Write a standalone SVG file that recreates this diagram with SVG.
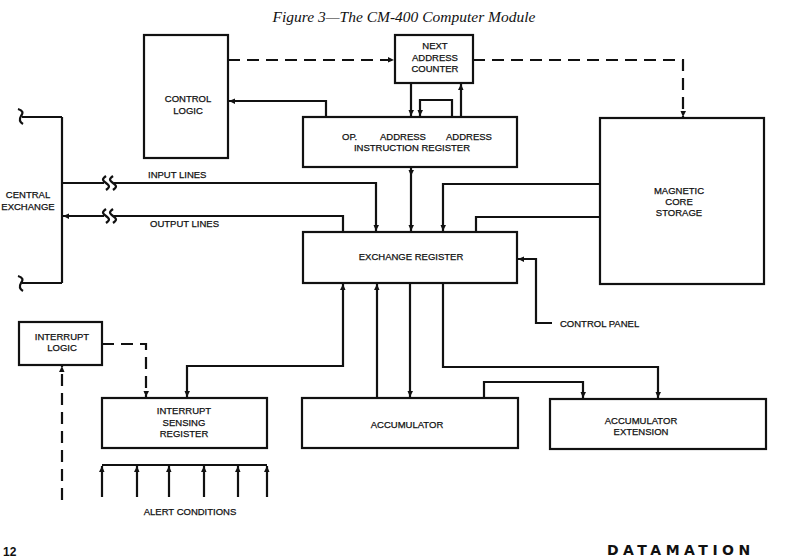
<svg xmlns="http://www.w3.org/2000/svg" width="789" height="560" viewBox="0 0 789 560">
<style>
.box{fill:#fff;stroke:#111;stroke-width:2.2}
.ln{fill:none;stroke:#111;stroke-width:2.2}
.ds{fill:none;stroke:#111;stroke-width:2.2;stroke-dasharray:12 7}
.t{font-family:"Liberation Sans",Arial,sans-serif;font-size:9.5px;fill:#111;stroke:#111;stroke-width:0.25;text-anchor:middle}
.tl{font-family:"Liberation Sans",Arial,sans-serif;font-size:9.5px;fill:#111;stroke:#111;stroke-width:0.25}
</style>
<defs>
<marker id="a" viewBox="-8 -4 9 8" markerWidth="9" markerHeight="8" refX="0" refY="0" orient="auto-start-reverse" markerUnits="userSpaceOnUse">
<path d="M0,0 L-6,-3 L-6,2.5 z" fill="#111"/>
</marker>
</defs>
<rect width="789" height="560" fill="#fff"/>
<text x="404" y="22" font-family="'Liberation Serif',serif" font-style="italic" font-size="15.5" fill="#111" text-anchor="middle">Figure 3—The CM-400 Computer Module</text>

<g id="connectors">
<line class="ds" x1="228" y1="60" x2="394" y2="60" marker-end="url(#a)"/>
<polyline class="ds" points="473,60 683,60 683,117" marker-end="url(#a)"/>
<polyline class="ln" points="326,117 326,101 229,101" marker-end="url(#a)"/>
<line class="ln" x1="411" y1="83" x2="411" y2="116" marker-end="url(#a)"/>
<polyline class="ln" points="452,117 452,100 420,100 420,116" marker-end="url(#a)"/>
<line class="ln" x1="461" y1="117" x2="461" y2="84" marker-end="url(#a)"/>
<line class="ln" x1="411" y1="167" x2="411" y2="176" marker-end="url(#a)"/>
<line class="ln" x1="411" y1="176" x2="411" y2="231" marker-end="url(#a)"/>
<path class="ln" d="M62,117 V283 M22,117 H62 M22,283 H62"/>
<path class="ln" d="M18,109 Q25,111 21,116 Q18,121 23,124"/>
<path class="ln" d="M18,276 Q25,278 21,283 Q18,288 23,291"/>
<line class="ln" x1="62" y1="183" x2="104" y2="183"/>
<path class="ln" d="M106,176 c-4,3 -4,4 0,7 c4,3 4,4 0,7 M113,176 c-4,3 -4,4 0,7 c4,3 4,4 0,7"/>
<polyline class="ln" points="114,183 376,183 376,231" marker-end="url(#a)"/>
<polyline class="ln" points="343,232 343,216 114,216"/>
<path class="ln" d="M106,209 c-4,3 -4,4 0,7 c4,3 4,4 0,7 M113,209 c-4,3 -4,4 0,7 c4,3 4,4 0,7"/>
<line class="ln" x1="104" y1="216" x2="63" y2="216" marker-end="url(#a)"/>
<polyline class="ln" points="600,184 443,184 443,231" marker-end="url(#a)"/>
<polyline class="ln" points="476,232 476,217 600,217"/>
<polyline class="ln" points="552,323 536,323 536,259 518,259" marker-end="url(#a)"/>
<polyline class="ln" points="343,284 343,366 187,366 187,397" marker-start="url(#a)" marker-end="url(#a)"/>
<line class="ln" x1="377" y1="398" x2="377" y2="284" marker-end="url(#a)"/>
<line class="ln" x1="410" y1="283" x2="410" y2="397" marker-end="url(#a)"/>
<polyline class="ln" points="443,283 443,367 658,367 658,398" marker-end="url(#a)"/>
<polyline class="ln" points="484,398 484,382 583,382 583,398" marker-end="url(#a)"/>
<polyline class="ds" points="102,344 146,344 146,397" marker-end="url(#a)"/>
<line class="ds" x1="62" y1="500" x2="62" y2="366" marker-end="url(#a)"/>
<line class="ln" x1="102" y1="465" x2="267" y2="465"/>
<line class="ln" x1="102" y1="497" x2="102" y2="466" marker-end="url(#a)"/>
<line class="ln" x1="137" y1="497" x2="137" y2="466" marker-end="url(#a)"/>
<line class="ln" x1="169" y1="497" x2="169" y2="466" marker-end="url(#a)"/>
<line class="ln" x1="204" y1="497" x2="204" y2="466" marker-end="url(#a)"/>
<line class="ln" x1="238" y1="497" x2="238" y2="466" marker-end="url(#a)"/>
<line class="ln" x1="267" y1="497" x2="267" y2="466" marker-end="url(#a)"/>
</g>

<g id="control-logic">
<rect class="box" x="144" y="35" width="84" height="123"/>
<text class="t" x="188" y="102">CONTROL</text>
<text class="t" x="188" y="114">LOGIC</text>
</g>
<g id="next-address-counter">
<rect class="box" x="395" y="35" width="78" height="48"/>
<text class="t" x="435" y="49">NEXT</text>
<text class="t" x="435" y="61">ADDRESS</text>
<text class="t" x="435" y="72">COUNTER</text>
</g>
<g id="instruction-register">
<rect class="box" x="303" y="117" width="214" height="50"/>
<text class="tl" x="342" y="140">OP.</text>
<text class="tl" x="380" y="140">ADDRESS</text>
<text class="tl" x="446" y="140">ADDRESS</text>
<text class="t" x="412" y="151">INSTRUCTION REGISTER</text>
</g>
<g id="central-exchange">
<text class="t" x="28" y="198">CENTRAL</text>
<text class="t" x="28" y="210">EXCHANGE</text>
</g>
<g id="input-lines"><text class="tl" x="148" y="178">INPUT LINES</text></g>
<g id="output-lines"><text class="tl" x="150" y="227">OUTPUT LINES</text></g>
<g id="magnetic-core-storage">
<rect class="box" x="600" y="118" width="164" height="166"/>
<text class="t" x="679" y="194">MAGNETIC</text>
<text class="t" x="679" y="205">CORE</text>
<text class="t" x="679" y="216">STORAGE</text>
</g>
<g id="exchange-register">
<rect class="box" x="303" y="232" width="214" height="51"/>
<text class="t" x="411" y="260">EXCHANGE REGISTER</text>
</g>
<g id="control-panel"><text class="tl" x="560" y="327">CONTROL PANEL</text></g>
<g id="interrupt-logic">
<rect class="box" x="19" y="322" width="83" height="43"/>
<text class="t" x="62" y="340">INTERRUPT</text>
<text class="t" x="62" y="351">LOGIC</text>
</g>
<g id="interrupt-sensing-register">
<rect class="box" x="102" y="398" width="165" height="50"/>
<text class="t" x="184" y="414">INTERRUPT</text>
<text class="t" x="184" y="426">SENSING</text>
<text class="t" x="184" y="437">REGISTER</text>
</g>
<g id="accumulator">
<rect class="box" x="302" y="398" width="216" height="50"/>
<text class="t" x="407" y="428">ACCUMULATOR</text>
</g>
<g id="accumulator-extension">
<rect class="box" x="550" y="399" width="216" height="50"/>
<text class="t" x="641" y="424">ACCUMULATOR</text>
<text class="t" x="641" y="435">EXTENSION</text>
</g>
<g id="alert-conditions"><text class="t" x="190" y="515">ALERT CONDITIONS</text></g>
<text x="3" y="556" font-family="'Liberation Sans',Arial,sans-serif" font-weight="bold" font-size="12" fill="#111">12</text>
<text x="607" y="555" font-family="'DejaVu Sans',sans-serif" font-weight="bold" font-size="14" letter-spacing="4.5" fill="#111">DATAMATION</text>
</svg>
